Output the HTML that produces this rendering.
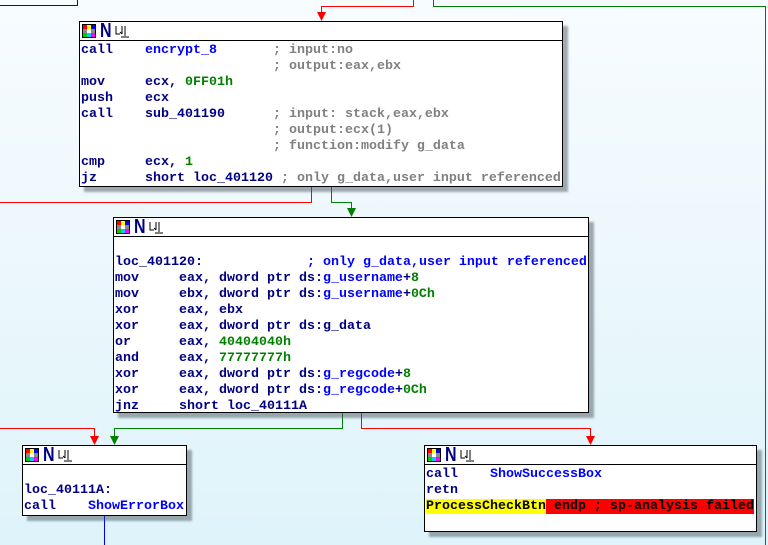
<!DOCTYPE html>
<html><head><meta charset="utf-8"><style>
html,body{margin:0;padding:0}
body{width:768px;height:545px;overflow:hidden;position:relative;background:linear-gradient(#f7fcff 0%,#eef8fc 40%,#def4fa 100%);font-family:"Liberation Mono",monospace;font-size:13.33px;font-weight:bold}
.box{position:absolute;background:#fff;border:1px solid #000;box-shadow:5px 5px 2px rgba(60,70,80,0.45)}
.hd{height:18px;border-bottom:1px solid #000;position:relative}
.ic{position:absolute;top:2px;left:2px;width:14px;height:14px;background:#000}
.ic i{position:absolute;width:4px;height:4px}
.N{position:absolute;left:20px;top:-2px;color:#000080;font-size:20px;font-weight:bold;font-family:"Liberation Sans",sans-serif;transform:scaleX(0.8);transform-origin:left}
.g{position:absolute;left:35px;top:3px;width:15px;height:13px}
pre{margin:0;padding:2px 0 0 1px;font:inherit;line-height:16px;color:#000080;white-space:pre;letter-spacing:0}
.b{color:#0000ff}.gr{color:#008000}.c{color:#808080}
</style></head><body>
<svg width="768" height="545" style="position:absolute;left:0;top:0">
<g fill="none" stroke-width="1">
<polyline points="0,5.5 77.5,5.5 77.5,0" stroke="#0000ff"/>
<polyline points="413.5,0 413.5,6.5 321.5,6.5 321.5,14" stroke="#ff0000"/>
<polyline points="433.5,0 433.5,6.5 765.5,6.5 765.5,545" stroke="#008000"/>
<polyline points="311.5,187 311.5,202.5 0,202.5" stroke="#ff0000"/>
<polyline points="331.5,187 331.5,202.5 351.5,202.5 351.5,210" stroke="#008000"/>
<polyline points="0,428.5 94.5,428.5 94.5,438" stroke="#ff0000"/>
<polyline points="342.5,413 342.5,428.5 114.5,428.5 114.5,438" stroke="#008000"/>
<polyline points="361.5,413 361.5,428.5 590.5,428.5 590.5,438" stroke="#ff0000"/>
<polyline points="104.5,516 104.5,545" stroke="#0000ff"/>
</g>
<polygon points="317,12 326,12 321.5,21" fill="#ff0000"/>
<polygon points="347,208 356,208 351.5,217" fill="#008000"/>
<polygon points="90,436 99,436 94.5,445" fill="#ff0000"/>
<polygon points="110,436 119,436 114.5,445" fill="#008000"/>
<polygon points="586,436 595,436 590.5,445" fill="#ff0000"/>
</svg>

<div class="box" style="left:79px;top:21px;width:482px;height:164px">
<div class="hd"><div class="ic"><i style="left:1px;top:1px;background:#f00"></i><i style="left:5px;top:1px;background:#ff0"></i><i style="left:9px;top:1px;background:#00f"></i><i style="left:1px;top:5px;background:#888"></i><i style="left:5px;top:5px;background:#fff"></i><i style="left:9px;top:5px;background:#888"></i><i style="left:1px;top:9px;background:#0c0"></i><i style="left:5px;top:9px;background:#0cf"></i><i style="left:9px;top:9px;background:#f0f"></i></div><span class="N">N</span><svg class="g" viewBox="0 0 15 13"><path d="M1 1V9H5M7 1V9M10 1V11M5 7L7 9M12 12H14M6 12H14" stroke="#000" fill="none"/></svg></div>
<pre>call    <span class="b">encrypt_8</span>       <span class="c">; input:no</span>
                        <span class="c">; output:eax,ebx</span>
mov     ecx, <span class="gr">0FF01h</span>
push    ecx
call    sub_401190      <span class="c">; input: stack,eax,ebx</span>
                        <span class="c">; output:ecx(1)</span>
                        <span class="c">; function:modify g_data</span>
cmp     ecx, <span class="gr">1</span>
jz      short loc_401120 <span class="c">; only g_data,user input referenced</span></pre>
</div>

<div class="box" style="left:113px;top:217px;width:474px;height:194px">
<div class="hd"><div class="ic"><i style="left:1px;top:1px;background:#f00"></i><i style="left:5px;top:1px;background:#ff0"></i><i style="left:9px;top:1px;background:#00f"></i><i style="left:1px;top:5px;background:#888"></i><i style="left:5px;top:5px;background:#fff"></i><i style="left:9px;top:5px;background:#888"></i><i style="left:1px;top:9px;background:#0c0"></i><i style="left:5px;top:9px;background:#0cf"></i><i style="left:9px;top:9px;background:#f0f"></i></div><span class="N">N</span><svg class="g" viewBox="0 0 15 13"><path d="M1 1V9H5M7 1V9M10 1V11M5 7L7 9M12 12H14M6 12H14" stroke="#000" fill="none"/></svg></div>
<pre> 
loc_401120:             <span class="b">; only g_data,user input referenced</span>
mov     eax, dword ptr ds:<span class="b">g_username</span>+<span class="gr">8</span>
mov     ebx, dword ptr ds:<span class="b">g_username</span>+<span class="gr">0Ch</span>
xor     eax, ebx
xor     eax, dword ptr ds:g_data
or      eax, <span class="gr">40404040h</span>
and     eax, <span class="gr">77777777h</span>
xor     eax, dword ptr ds:<span class="b">g_regcode</span>+<span class="gr">8</span>
xor     eax, dword ptr ds:<span class="b">g_regcode</span>+<span class="gr">0Ch</span>
jnz     short loc_40111A</pre>
</div>

<div class="box" style="left:22px;top:445px;width:163px;height:69px">
<div class="hd"><div class="ic"><i style="left:1px;top:1px;background:#f00"></i><i style="left:5px;top:1px;background:#ff0"></i><i style="left:9px;top:1px;background:#00f"></i><i style="left:1px;top:5px;background:#888"></i><i style="left:5px;top:5px;background:#fff"></i><i style="left:9px;top:5px;background:#888"></i><i style="left:1px;top:9px;background:#0c0"></i><i style="left:5px;top:9px;background:#0cf"></i><i style="left:9px;top:9px;background:#f0f"></i></div><span class="N">N</span><svg class="g" viewBox="0 0 15 13"><path d="M1 1V9H5M7 1V9M10 1V11M5 7L7 9M12 12H14M6 12H14" stroke="#000" fill="none"/></svg></div>
<pre> 
loc_40111A:
call    <span class="b">ShowErrorBox</span></pre>
</div>

<div class="box" style="left:424px;top:445px;width:331px;height:85px">
<div class="hd"><div class="ic"><i style="left:1px;top:1px;background:#f00"></i><i style="left:5px;top:1px;background:#ff0"></i><i style="left:9px;top:1px;background:#00f"></i><i style="left:1px;top:5px;background:#888"></i><i style="left:5px;top:5px;background:#fff"></i><i style="left:9px;top:5px;background:#888"></i><i style="left:1px;top:9px;background:#0c0"></i><i style="left:5px;top:9px;background:#0cf"></i><i style="left:9px;top:9px;background:#f0f"></i></div><span class="N">N</span><svg class="g" viewBox="0 0 15 13"><path d="M1 1V9H5M7 1V9M10 1V11M5 7L7 9M12 12H14M6 12H14" stroke="#000" fill="none"/></svg></div>
<pre>call    <span class="b">ShowSuccessBox</span>
retn
<span style="background:#ffff00;color:#000">ProcessCheckBtn</span><span style="background:#ff0000;color:#000"> endp ; sp-analysis failed</span></pre>
</div>
</body></html>
